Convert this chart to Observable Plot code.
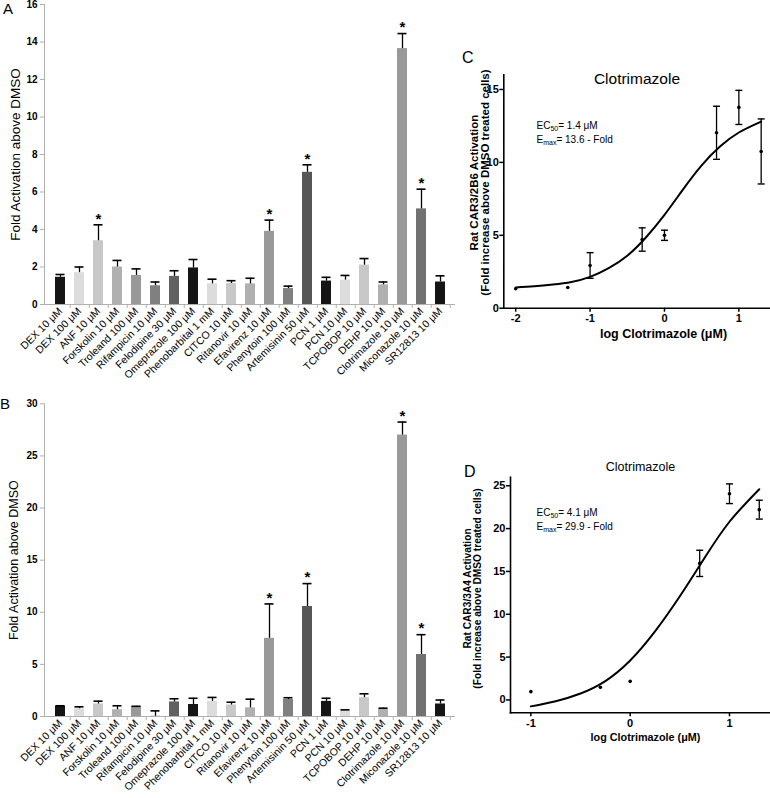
<!DOCTYPE html>
<html>
<head>
<meta charset="utf-8">
<script src="https://cdn.jsdelivr.net/npm/d3@7"></script>
<script src="https://cdn.jsdelivr.net/npm/@observablehq/plot@0.6"></script>
<style>
  body { margin: 0; background: white; }
  #root { position: relative; width: 770px; height: 798px; font-family: "Liberation Sans", Arial, sans-serif; color: black; overflow: hidden; }
  .panel { position: absolute; }
  .letter { position: absolute; line-height: 1; }
  .note { position: absolute; font-size: 10px; line-height: 13.5px; white-space: nowrap; }
  .note sub { font-size: 7px; vertical-align: -2px; line-height: 0; }
</style>
</head>
<body>
<div id="root"></div>
<script>
// ---------------- data ----------------
const drugs = ["DEX 10 μM","DEX 100 μM","ANF 10 μM","Forskolin 10 μM","Troleand 100 μM","Rifampicin 10 μM","Felodipine 30 μM","Omeprazole 100 μM","Phenobarbital 1 mM","CITCO 10 μM","Ritanovir 10 μM","Efavirenz 10 μM","Phenytoin 100 μM","Artemisinin 50 μM","PCN 1 μM","PCN 10 μM","TCPOBOP 10 μM","DEHP 10 μM","Clotrimazole 10 μM","Miconazole 10 μM","SR12813 10 μM"];

const foldA = [1.45,1.7,3.4,2.0,1.55,1.0,1.5,1.95,1.1,1.12,1.1,3.9,0.85,7.05,1.25,1.3,2.1,1.05,13.65,5.1,1.2];
const semA  = [0.15,0.3,0.85,0.35,0.35,0.2,0.3,0.45,0.25,0.15,0.3,0.6,0.13,0.4,0.2,0.25,0.35,0.15,0.8,1.05,0.33];
const sigA  = ["ANF 10 μM","Efavirenz 10 μM","Artemisinin 50 μM","Clotrimazole 10 μM","Miconazole 10 μM"];
const yTicksA = [0,2,4,6,8,10,12,14,16];

const foldB = [1.0,0.75,1.2,0.65,0.95,0.02,1.4,1.15,1.45,1.1,0.83,7.5,1.63,10.55,1.45,0.58,1.8,0.7,27.0,5.95,1.2];
const semB  = [0.03,0.18,0.27,0.38,0.03,0.52,0.3,0.6,0.38,0.27,0.83,3.3,0.17,2.2,0.3,0.06,0.38,0.1,1.25,1.9,0.38];
const sigB  = ["Efavirenz 10 μM","Artemisinin 50 μM","Clotrimazole 10 μM","Miconazole 10 μM"];
const yTicksB = [0,5,10,15,20,25,30];

// Panel C: rat CAR3/2B6
const logConcC = [-2,-1.3,-1,-0.3,0,0.7,1,1.3];
const respC    = [1.33,1.42,2.93,4.71,5.0,12.03,13.77,10.75];
const semC     = [0,0,0.88,0.8,0.35,1.82,1.17,2.23];
const fitXC = [-2,-1.75,-1.5,-1.25,-1,-0.75,-0.5,-0.25,0,0.25,0.5,0.75,1,1.3];
const fitYC = [1.42,1.5,1.62,1.8,2.15,2.75,3.6,4.85,6.4,8.15,9.8,11.1,12.05,12.8];
const xTicksC = [-2,-1,0,1];
const yTicksC = [0,5,10,15];

// Panel D: rat CAR3/3A4
const logConcD = [-1,-0.3,0,0.7,1,1.3];
const respD    = [0.97,1.47,2.17,15.94,24.07,22.21];
const semD     = [0,0,0,1.53,1.15,1.1];
const fitXD = [-1,-0.75,-0.5,-0.25,0,0.25,0.5,0.75,1,1.3];
const fitYD = [-0.75,-0.15,0.75,2.2,4.6,8.0,12.1,16.6,20.8,24.6];
const xTicksD = [-1,0,1];
const yTicksD = [0,5,10,15,20,25];

// ---------------- styles ----------------
const grays = ["#151515","#dcdcdc","#c8c8c8","#b0b0b0","#999999","#808080","#616161",
               "#151515","#dcdcdc","#c8c8c8","#b0b0b0","#999999","#808080","#565656",
               "#151515","#dcdcdc","#c8c8c8","#b0b0b0","#999999","#717171","#151515"];
const FONT = "Liberation Sans, Arial, Helvetica, sans-serif";
const root = document.getElementById("root");

function place(el, left, top) {
  const d = document.createElement("div");
  d.className = "panel";
  d.style.left = left + "px";
  d.style.top = top + "px";
  d.appendChild(el);
  root.appendChild(d);
}
function addHTML(cls, html, left, top, extra) {
  const d = document.createElement("div");
  d.className = cls;
  d.style.left = left + "px";
  d.style.top = top + "px";
  if (extra) Object.assign(d.style, extra);
  d.innerHTML = html;
  root.appendChild(d);
}

// ---------------- bar panels ----------------
function barPanel({fold, sem, sig, yMax, yTicks, height, marginTop, marginBottom, titleSize, titleDx}) {
  const rows = drugs.map((d, i) => ({drug: d, v: fold[i], e: sem[i], hi: fold[i] + sem[i], sig: sig.includes(d)}));
  const width = 465, marginLeft = 44, marginRight = 10;
  const pInner = 0.5, pOuter = 0.3;
  const step = (width - marginLeft - marginRight) / (drugs.length - pInner + 2 * pOuter);
  return Plot.plot({
    width, height, marginLeft, marginRight, marginTop, marginBottom,
    style: {background: "none", overflow: "visible", fontFamily: FONT, color: "black"},
    x: {domain: drugs, paddingInner: pInner, paddingOuter: pOuter, label: null},
    y: {domain: [0, yMax], label: null},
    color: {domain: drugs, range: grays},
    marks: [
      Plot.barY(rows, {x: "drug", y: "v", fill: "drug"}),
      Plot.ruleX(rows, {x: "drug", y1: "v", y2: "hi", stroke: "black", strokeWidth: 1.3}),
      Plot.tickY(rows, {x: "drug", y: "hi", stroke: "black", strokeWidth: 1.6, insetLeft: 0.5, insetRight: 0.5}),
      Plot.text(rows.filter(d => d.sig), {x: "drug", y: "hi", text: () => "*", dy: -6, fontSize: 15, fontWeight: "bold"}),
      Plot.ruleY([0], {stroke: "#b0b0b0"}),
      Plot.frame({anchor: "left", stroke: "#b0b0b0"}),
      Plot.axisY({ticks: yTicks, tickSize: 4, tickPadding: 3, color: "black", stroke: "#b0b0b0", fontWeight: "bold", fontSize: 10, label: null}),
      Plot.axisX({tickSize: 4, tickFormat: () => "", stroke: "#b0b0b0", dx: step / 2, label: null}),
      Plot.axisX({tickSize: 0, tickPadding: 5, tickRotate: -45, fontSize: 10.5, label: null}),
      Plot.text(["Fold Activation above DMSO"], {frameAnchor: "left", rotate: -90, dx: titleDx, fontSize: titleSize, textAnchor: "middle", lineAnchor: "middle"})
    ]
  });
}

place(barPanel({fold: foldA, sem: semA, sig: sigA, yMax: 16, yTicks: yTicksA, height: 380, marginTop: 4, marginBottom: 76, titleSize: 13.5, titleDx: -29}), 0, 0);
place(barPanel({fold: foldB, sem: semB, sig: sigB, yMax: 30, yTicks: yTicksB, height: 418, marginTop: 23.3, marginBottom: 82, titleSize: 12.5, titleDx: -31}), 0, 380);

// ---------------- dose-response panels ----------------
const capSymbol = {draw(ctx, size) { const w = Math.sqrt(size / Math.PI); ctx.moveTo(-w, 0); ctx.lineTo(w, 0); }};

function dosePanel({xs, ys, es, fx, fy, xDomain, yDomain, xTicks, yTicks, width, height, margins, yTitle, yTitleDx, yTitleDy, yTitleSize, titleDy, titleSize, xTitleDx, xTitleDy, xTitleSize}) {
  const pts = xs.map((x, i) => ({x, y: ys[i], e: es[i], lo: ys[i] - es[i], hi: ys[i] + es[i]}));
  const errs = pts.filter(d => d.e > 0);
  const fit = fx.map((x, i) => ({x, y: fy[i]}));
  return Plot.plot({
    width, height, ...margins,
    style: {background: "none", overflow: "visible", fontFamily: FONT, color: "black"},
    x: {domain: xDomain, label: null},
    y: {domain: yDomain, label: null},
    marks: [
      Plot.frame({anchor: "left", strokeWidth: 1.6}),
      Plot.frame({anchor: "bottom", strokeWidth: 1.6}),
      Plot.axisY({ticks: yTicks, tickSize: 4, tickPadding: 1, strokeWidth: 1.5, fontWeight: "bold", fontSize: 11, label: null}),
      Plot.axisX({ticks: xTicks, tickSize: 4, tickPadding: 2, strokeWidth: 1.5, fontWeight: "bold", fontSize: 11, tickFormat: d => String(d), label: null}),
      Plot.line(fit, {x: "x", y: "y", curve: "natural", stroke: "black", strokeWidth: 2}),
      Plot.ruleX(errs, {x: "x", y1: "lo", y2: "hi", stroke: "black", strokeWidth: 1.3}),
      Plot.dot(errs, {x: "x", y: "hi", symbol: capSymbol, r: 3.5, fill: "none", stroke: "black", strokeWidth: 1.4}),
      Plot.dot(errs, {x: "x", y: "lo", symbol: capSymbol, r: 3.5, fill: "none", stroke: "black", strokeWidth: 1.4}),
      Plot.dot(pts, {x: "x", y: "y", r: 1.8, fill: "black"}),
      Plot.text(["Clotrimazole"], {frameAnchor: "top", dy: titleDy, fontSize: titleSize, lineAnchor: "middle"}),
      Plot.text([yTitle], {frameAnchor: "left", rotate: -90, dx: yTitleDx, dy: yTitleDy, fontSize: yTitleSize, fontWeight: "bold", textAnchor: "middle", lineAnchor: "middle", lineHeight: 1.0}),
      Plot.text(["log Clotrimazole (μM)"], {frameAnchor: "bottom", dx: xTitleDx, dy: xTitleDy, fontSize: xTitleSize, fontWeight: "bold", lineAnchor: "middle"})
    ]
  });
}

place(dosePanel({
  xs: logConcC, ys: respC, es: semC, fx: fitXC, fy: fitYC,
  xDomain: [-2.16, 1.42], yDomain: [0, 16], xTicks: xTicksC, yTicks: yTicksC,
  width: 310, height: 300,
  margins: {marginLeft: 43.3, marginRight: 0.4, marginTop: 24.4, marginBottom: 42.3},
  yTitle: "Rat CAR3/2B6 Activation\n(Fold increase above DMSO treated cells)",
  yTitleDx: -24, yTitleDy: -9, yTitleSize: 11.5, titleDy: 4.6, titleSize: 15.5,
  xTitleDx: 26.6, xTitleDy: 25.3, xTitleSize: 12.5
}), 460, 50);

place(dosePanel({
  xs: logConcD, ys: respD, es: semD, fx: fitXD, fy: fitYD,
  xDomain: [-1.205, 1.413], yDomain: [-1.5, 26], xTicks: xTicksD, yTicks: yTicksD,
  width: 310, height: 310,
  margins: {marginLeft: 50, marginRight: 0, marginTop: 26.7, marginBottom: 47.7},
  yTitle: "Rat CAR3/3A4 Activation\n(Fold increase above DMSO treated cells)",
  yTitleDx: -38, yTitleDy: -6.5, yTitleSize: 10.2, titleDy: -10, titleSize: 12.5,
  xTitleDx: 5, xTitleDy: 24.4, xTitleSize: 10.8
}), 460, 450);

// ---------------- annotations ----------------
addHTML("letter", "A", 3, 1, {fontSize: "15px"});
addHTML("letter", "B", 0, 396, {fontSize: "15px"});
addHTML("letter", "C", 462, 50, {fontSize: "16px"});
addHTML("letter", "D", 464, 464, {fontSize: "16px"});
addHTML("note", "EC<sub>50</sub>= 1.4 μM<br>E<sub>max</sub>= 13.6 - Fold", 536.5, 119);
addHTML("note", "EC<sub>50</sub>= 4.1 μM<br>E<sub>max</sub>= 29.9 - Fold", 536.5, 506);
</script>
</body>
</html>
